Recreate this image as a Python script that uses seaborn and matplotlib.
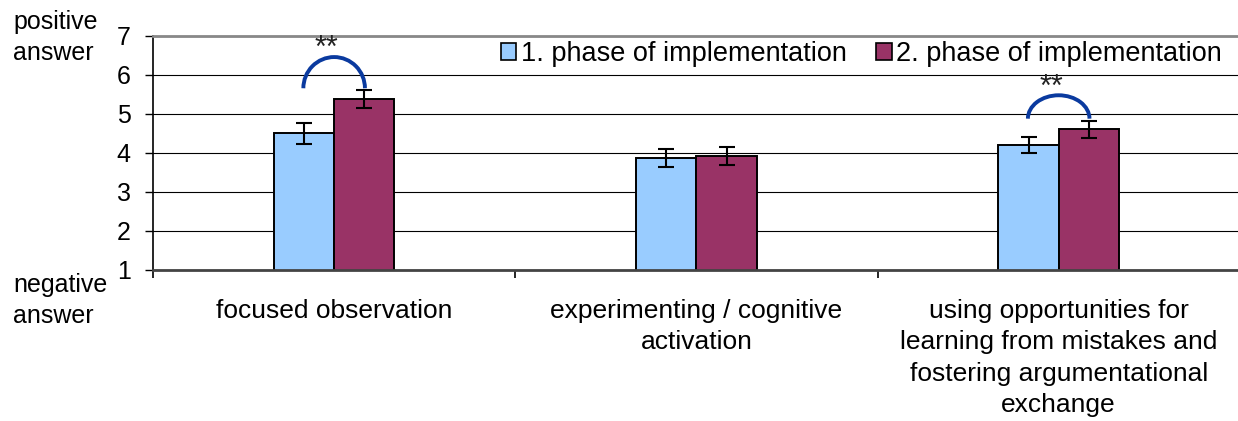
import numpy as np
import pandas as pd
import matplotlib.pyplot as plt
import seaborn as sns
from matplotlib.patches import Arc, Patch

# chart values
categories = ['focused observation',
              'experimenting / cognitive\nactivation',
              'using opportunities for\nlearning from mistakes and\nfostering argumentational\nexchange']
phases = ['1. phase of implementation', '2. phase of implementation']
phase1_means = [4.50, 3.87, 4.20]
phase2_means = [5.38, 3.93, 4.61]
phase1_err = [0.27, 0.24, 0.21]
phase2_err = [0.23, 0.23, 0.22]
y_ticks = [1, 2, 3, 4, 5, 6, 7]

# significance marks between the two phases
sig_categories = [0, 2]
sig_labels = ['**', '**']
sig_rise = [0.8, 0.6]

colors = ['#99CCFF', '#993366']

sns.set_theme(style='white')
plt.rcParams['font.family'] = ['Liberation Sans', 'DejaVu Sans']
plt.rcParams['text.color'] = 'black'
plt.rcParams['xtick.color'] = 'black'
plt.rcParams['ytick.color'] = 'black'

df = pd.DataFrame({
    'category': categories * 2,
    'phase': [phases[0]] * 3 + [phases[1]] * 3,
    'value': phase1_means + phase2_means,
})

fig = plt.figure(figsize=(12.38, 4.21), dpi=100)
ax = fig.add_axes([0.1236, 0.3587, 0.8764, 0.5558])

sns.barplot(data=df, x='category', y='value', hue='phase', palette=colors,
            saturation=1, width=0.333, edgecolor='black', linewidth=1.4,
            errorbar=None, ax=ax, legend=False, zorder=2)

# error bars on top of each bar
errs = [phase1_err, phase2_err]
for cont, err in zip(ax.containers, errs):
    xs = [b.get_x() + b.get_width() / 2 for b in cont]
    ys = [b.get_height() for b in cont]
    ax.errorbar(xs, ys, yerr=err, fmt='none', ecolor='black',
                elinewidth=1.5, capsize=6, capthick=1.5, zorder=3)

# arcs with stars
tops = np.maximum(np.array(phase1_means) + phase1_err,
                  np.array(phase2_means) + phase2_err)
for ci, lab, rise in zip(sig_categories, sig_labels, sig_rise):
    base = tops[ci] + 0.05
    ax.add_patch(Arc((ci, base), width=0.17, height=2 * rise, theta1=0, theta2=180,
                     color='#0a3a9f', lw=2.8, zorder=4))
    ax.text(ci - 0.02, base + rise + 0.2, lab, ha='center', va='center',
            fontsize=22, color='#222222')

ax.set_ylim(1, 7)
ax.set_xlim(-0.5, 2.495)
ax.set_yticks(y_ticks)
ax.yaxis.grid(True, color='black', lw=0.8)
ax.set_axisbelow(True)
ax.set_xlabel('')
ax.set_ylabel('')

ax.spines['right'].set_visible(False)
ax.spines['top'].set_color('#888888')
ax.spines['top'].set_linewidth(2)
ax.spines['bottom'].set_color('#444444')
ax.spines['bottom'].set_linewidth(2)
ax.spines['left'].set_color('black')
ax.spines['left'].set_linewidth(1.2)

ax.tick_params(axis='y', left=True, length=6, width=1, color='black',
               direction='out', labelsize=18, pad=10)
ax.set_xticks([-0.5, 0.5, 1.5], minor=True)
ax.tick_params(axis='x', which='minor', bottom=True, length=6, width=1.2, color='black')
ax.tick_params(axis='x', which='major', length=0, pad=21, labelsize=19)
for lab in ax.get_xticklabels():
    lab.set_linespacing(1.38)

handles = [Patch(facecolor=c, edgecolor='black', lw=1.2) for c in colors]
ax.legend(handles, phases, loc='upper right', bbox_to_anchor=(0.99, 1.0), ncol=2,
          frameon=False, fontsize=19.5, handlelength=0.58, handleheight=0.58,
          handletextpad=0.15, columnspacing=1.1, borderaxespad=0, borderpad=0.2)

fig.text(13 / 1238, 1 - 10 / 421, 'positive\nanswer', ha='left', va='top',
         fontsize=18, linespacing=1.35)
fig.text(13 / 1238, 1 - 273 / 421, 'negative\nanswer', ha='left', va='top',
         fontsize=18, linespacing=1.35)

fig.savefig('out.png', dpi=100)
